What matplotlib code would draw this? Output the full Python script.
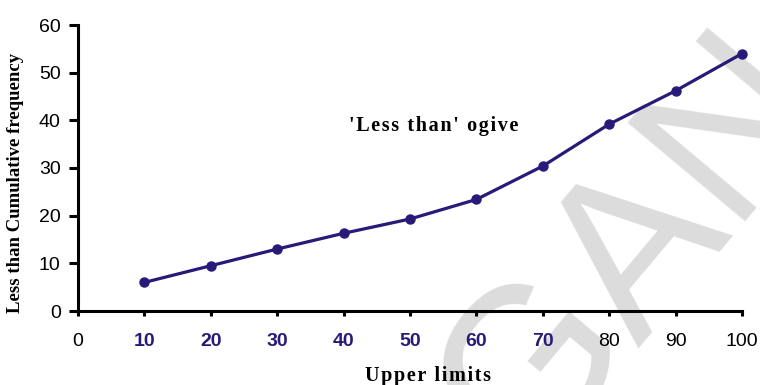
import matplotlib
matplotlib.use("Agg")
import matplotlib.pyplot as plt

upper_limits = [10, 20, 30, 40, 50, 60, 70, 80, 90, 100]
cum_freq = [6, 9.5, 13, 16.3, 19.3, 23.4, 30.4, 39.2, 46.2, 54]
x_ticks = [0, 10, 20, 30, 40, 50, 60, 70, 80, 90, 100]
y_ticks = [0, 10, 20, 30, 40, 50, 60]
blue_ticks = [10, 20, 30, 40, 50, 60, 70]

navy = "#281a78"
serif = ["Liberation Serif", "DejaVu Serif"]


def spaced(s):
    # fake letter spacing with hair spaces
    return "\u200a".join(s)


fig = plt.figure(figsize=(7.6, 3.85), dpi=100)
ax = fig.add_axes([78 / 760, 1 - 311 / 385, (742 - 78) / 760, (311 - 25) / 385])
ax.set_zorder(2)
ax.set_facecolor("none")

# watermark behind everything
fig.text(635 / 760, 1 - 250 / 385, "GAN", rotation=50, rotation_mode="anchor",
         ha="center", va="center", fontsize=160, family="Liberation Sans",
         color="#dcdcdc", zorder=0)

ax.plot(upper_limits, cum_freq, color=navy, lw=2.3, marker="o", ms=6.5,
        clip_on=False, zorder=5)

ax.set_xlim(0, 100)
ax.set_ylim(0, 60)
ax.set_xticks(x_ticks)
ax.set_yticks(y_ticks)
for s in ["top", "right"]:
    ax.spines[s].set_visible(False)
for s in ["left", "bottom"]:
    ax.spines[s].set_linewidth(2.2)

ax.tick_params(axis="y", direction="out", length=6.5, width=2.2, pad=6,
               labelsize=14)
ax.tick_params(axis="x", direction="out", length=3.5, width=2.2, pad=12,
               labelsize=14)

for lab in ax.get_yticklabels():
    lab.set_family("Liberation Sans")
ax.set_xticklabels([str(t) for t in x_ticks])
for lab, t in zip(ax.get_xticklabels(), x_ticks):
    lab.set_family("Liberation Sans")
    if t in blue_ticks:
        lab.set_color(navy)
        lab.set_fontweight("bold")

fig.text(434 / 760, 1 - 131 / 385, spaced("'Less than' ogive"),
         ha="center", va="baseline", fontsize=14.5, family=serif, fontweight="bold")

fig.text(16 / 760, 1 - 183 / 385, "Less than Cumulative frequency",
         rotation=90, ha="center", va="center", fontsize=13.5,
         family=serif, fontweight="bold")
fig.text(428 / 760, 1 - 381 / 385, spaced("Upper limits"),
         ha="center", va="baseline", fontsize=14.5, family=serif, fontweight="bold")

fig.savefig("out.png", dpi=100)
